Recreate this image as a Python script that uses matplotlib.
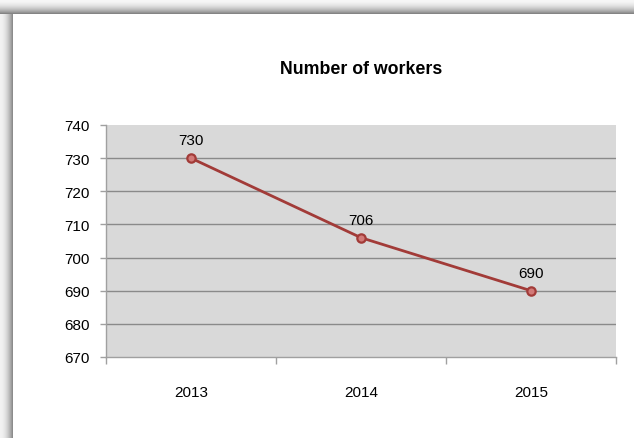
import matplotlib.pyplot as plt
import numpy as np

plt.rcParams['font.family'] = ['Liberation Sans', 'DejaVu Sans']

# chart data
years = ['2013', '2014', '2015']
workers = [730, 706, 690]
y_ticks = [670, 680, 690, 700, 710, 720, 730, 740]

W, H = 634, 439
fig = plt.figure(figsize=(W / 100, H / 100), dpi=100)
fig.patch.set_facecolor('white')

# shadowed frame around the chart (top and left edges)
bg = np.ones((H, W, 3))
for y in range(15):
    v = 0.97 - 0.45 * (y / 14) ** 2
    bg[y, :, :] = v
for x in range(13):
    v = 0.95 - 0.40 * (x / 12) ** 2
    bg[15:, x, :] = np.minimum(bg[15:, x, :], v)
bg_ax = fig.add_axes([0, 0, 1, 1], zorder=-1)
bg_ax.imshow(bg, aspect='auto', interpolation='bilinear')
bg_ax.axis('off')

ax = fig.add_axes([106 / W, 81 / H, 510 / W, 232 / H])
ax.set_facecolor('#d9d9d9')

x = np.arange(len(years))
ax.plot(x, workers, color='#a23b38', linewidth=2.0, marker='o', markersize=6,
        markerfacecolor='#d27a78', markeredgecolor='#a23b38', markeredgewidth=1.6,
        zorder=3)
for xi, v in zip(x, workers):
    ax.annotate(str(v), (xi, v), xytext=(0, 8), textcoords='offset points',
                ha='center', va='bottom', fontsize=11, color='black')

ax.set_xlim(-0.5, len(years) - 0.5)
ax.set_ylim(670, 740)
ax.set_yticks(y_ticks)
# gridlines only between the bottom axis and the top edge
ax.hlines(y_ticks[1:-1], -0.5, len(years) - 0.5, color='#8a8a8a', linewidth=1.0, zorder=1)

ax.set_xticks(x)
ax.set_xticklabels(years)
ax.set_xticks(np.arange(len(years) + 1) - 0.5, minor=True)
ax.tick_params(axis='x', which='major', length=0, pad=20, labelsize=11)
ax.tick_params(axis='x', which='minor', length=5, color='#a0a0a0', width=1)
ax.tick_params(axis='y', length=4, color='#a0a0a0', width=1, pad=8, labelsize=11)

for side in ['top', 'right']:
    ax.spines[side].set_visible(False)
for side in ['left', 'bottom']:
    ax.spines[side].set_color('#a0a0a0')
    ax.spines[side].set_linewidth(1.0)

fig.text(361 / W, 1 - 70 / H, 'Number of workers', ha='center', va='center',
         fontsize=12.8, fontweight='bold')

fig.savefig('out.png', dpi=100)
